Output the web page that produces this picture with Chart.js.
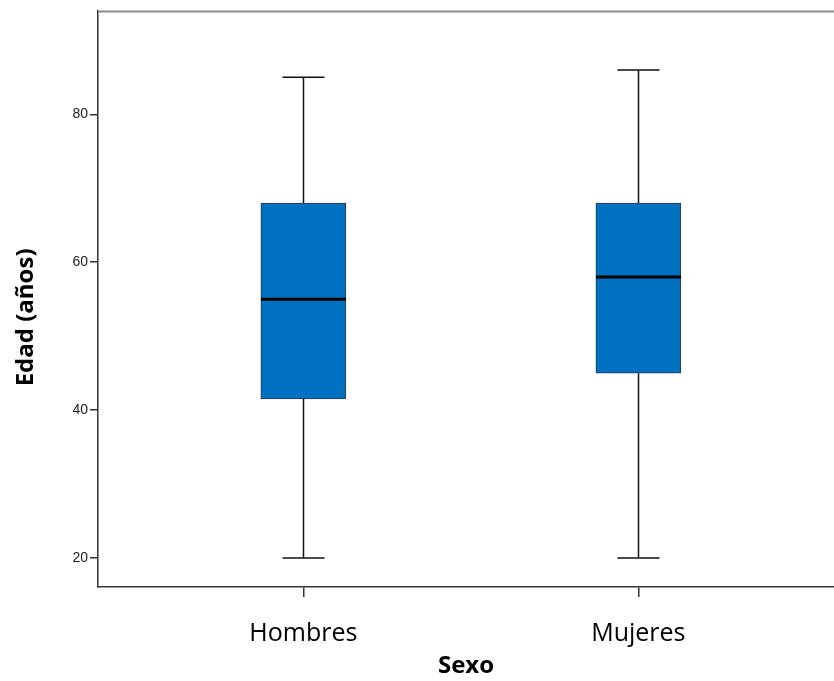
<!DOCTYPE html>
<html>
<head>
<meta charset="utf-8">
<script src="https://cdn.jsdelivr.net/npm/chart.js@4.4.1/dist/chart.umd.min.js"></script>
<style>
  html, body { margin: 0; padding: 0; background: #fff; }
  #wrap { width: 834px; height: 681px; }
</style>
</head>
<body>
<div id="wrap"><canvas id="box"></canvas></div>
<script>
// Edad por sexo: min, Q1, mediana, Q3, max
const groups = ["Hombres", "Mujeres"];
const positions = [1, 2];
const mins = [20, 20];
const q1s = [41.5, 45];
const medians = [55, 58];
const q3s = [68, 68];
const maxs = [85, 86];
const yTicks = [20, 40, 60, 80];

const boxWidth = 85;
const capWidth = 42;

// whiskers, caps and median line, drawn through the chart's scales
const whiskerPlugin = {
  id: "whiskers",
  afterDatasetsDraw(chart) {
    const ctx = chart.ctx;
    const xs = chart.scales.x;
    const ys = chart.scales.y;
    ctx.save();
    for (let i = 0; i < groups.length; i++) {
      const cx = Math.round(xs.getPixelForValue(positions[i])) + 0.5;
      const yMin = ys.getPixelForValue(mins[i]);
      const yQ1 = ys.getPixelForValue(q1s[i]);
      const yMed = ys.getPixelForValue(medians[i]);
      const yQ3 = ys.getPixelForValue(q3s[i]);
      const yMax = ys.getPixelForValue(maxs[i]);

      ctx.strokeStyle = "#111";
      ctx.lineWidth = 1.5;
      ctx.beginPath();
      ctx.moveTo(cx, yMax);
      ctx.lineTo(cx, yQ3);
      ctx.moveTo(cx, yQ1);
      ctx.lineTo(cx, yMin);
      ctx.moveTo(cx - capWidth / 2, yMax);
      ctx.lineTo(cx + capWidth / 2, yMax);
      ctx.moveTo(cx - capWidth / 2, yMin);
      ctx.lineTo(cx + capWidth / 2, yMin);
      ctx.stroke();

      ctx.lineWidth = 3;
      ctx.strokeStyle = "#000";
      ctx.beginPath();
      ctx.moveTo(cx - boxWidth / 2, yMed);
      ctx.lineTo(cx + boxWidth / 2, yMed);
      ctx.stroke();
    }
    // top frame line
    const area = chart.chartArea;
    ctx.strokeStyle = "#8a8a8a";
    ctx.lineWidth = 2;
    ctx.beginPath();
    ctx.moveTo(area.left, area.top + 1);
    ctx.lineTo(area.right, area.top + 1);
    ctx.stroke();
    ctx.restore();
  }
};

new Chart(document.getElementById("box"), {
  type: "bar",
  data: {
    datasets: [{
      data: positions.map((p, i) => ({ x: p, y: [q1s[i], q3s[i]] })),
      backgroundColor: "#0070c0",
      borderColor: "#2b3a48",
      borderWidth: 1,
      borderSkipped: false,
      barThickness: boxWidth
    }]
  },
  options: {
    responsive: true,
    maintainAspectRatio: false,
    animation: false,
    layout: { padding: { top: 10, left: 0, right: 0, bottom: 0 } },
    plugins: {
      legend: { display: false },
      tooltip: { enabled: false }
    },
    scales: {
      x: {
        type: "linear",
        offset: false,
        min: 0.387,
        max: 2.584,
        afterBuildTicks: (axis) => { axis.ticks = positions.map(v => ({ value: v })); },
        afterFit: (axis) => { axis.height = 94; },
        grid: { offset: false, drawOnChartArea: false, drawTicks: true, tickLength: 10, color: "#333", lineWidth: 1.5 },
        border: { display: true, color: "#333", width: 1.5 },
        ticks: {
          padding: 22,
          color: "#000",
          font: { family: "Open Sans", size: 25 },
          callback: (v) => groups[positions.indexOf(v)]
        },
        title: {
          display: true,
          text: "Sexo",
          color: "#000",
          font: { family: "Open Sans", size: 24, weight: "bold" },
          padding: { top: 0, bottom: 0 }
        }
      },
      y: {
        min: 16.08,
        max: 94.05,
        afterBuildTicks: (axis) => { axis.ticks = yTicks.map(v => ({ value: v })); },
        afterFit: (axis) => { axis.width = 98; },
        grid: { drawOnChartArea: false, drawTicks: true, tickLength: 8, color: "#333", lineWidth: 1.5 },
        border: { display: true, color: "#333", width: 1.5 },
        ticks: {
          padding: 2,
          color: "#222",
          font: { family: "Liberation Sans", size: 14 }
        },
        title: {
          display: true,
          text: "Edad (años)      ",
          color: "#000",
          font: { family: "Open Sans", size: 24, weight: "bold" },
          padding: { top: 12, bottom: 0 }
        }
      }
    }
  },
  plugins: [whiskerPlugin]
});
</script>
</body>
</html>
